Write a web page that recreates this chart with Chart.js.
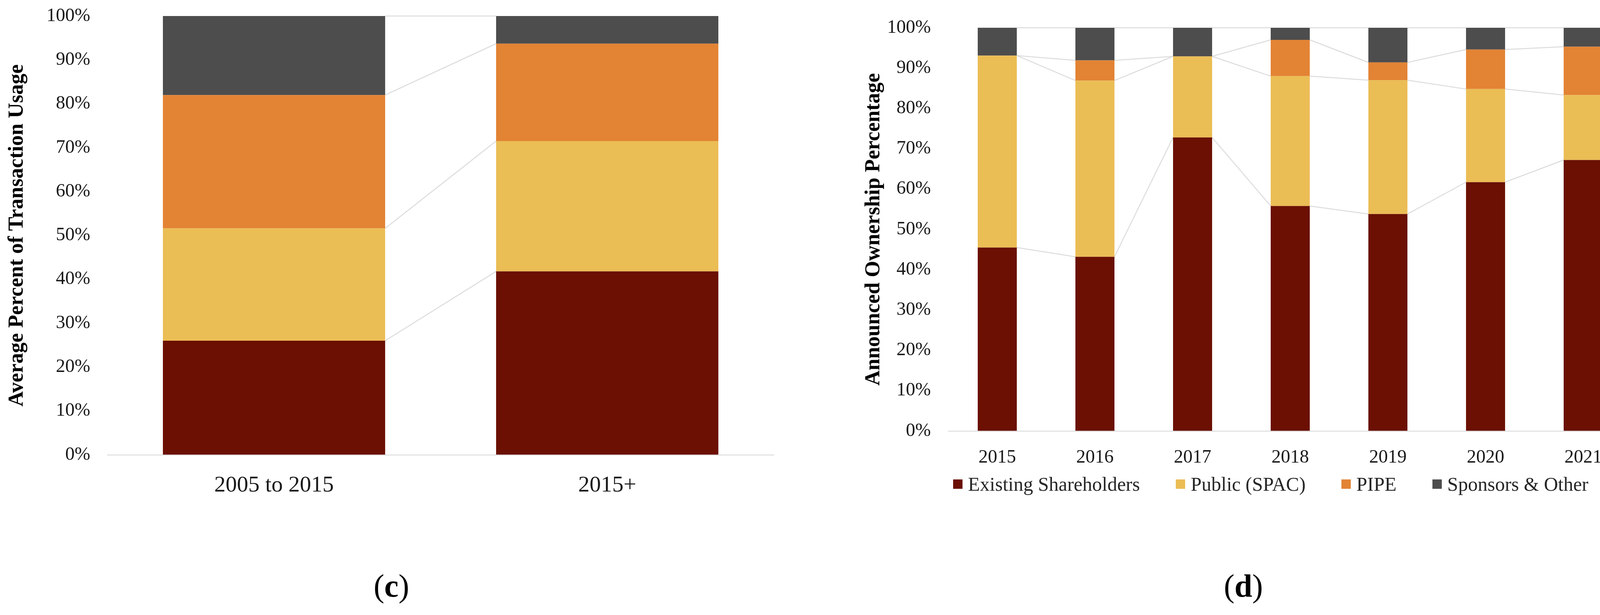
<!DOCTYPE html>
<html>
<head>
<meta charset="utf-8">
<script src="https://cdn.jsdelivr.net/npm/chart.js@4.4.1/dist/chart.umd.min.js"></script>
<style>
  html, body { margin: 0; padding: 0; background: #fff; overflow: hidden; }
  body { width: 4201px; height: 1574px; position: relative; font-family: 'Liberation Serif', 'Times New Roman', serif; }
  #left { position: absolute; left: 0; top: 0; }
  #right { position: absolute; left: 2150px; top: 0; }
  #legend { position: absolute; left: 2440px; top: 1208px; display: flex; align-items: center; gap: 92px;
            font-size: 50px; line-height: 62px; color: #262626; white-space: nowrap; }
  #legend .item { display: flex; align-items: center; }
  #legend i { display: inline-block; width: 24px; height: 24px; margin-right: 14px; }
  .caption { position: absolute; top: 1455px; font-size: 82px; line-height: 90px; color: #000; transform: translateX(-50%); }
</style>
</head>
<body>
<canvas id="left" width="2150" height="1300"></canvas>
<canvas id="right" width="2051" height="1300"></canvas>
<div id="legend"></div>
<div class="caption" style="left:1002px">(<b>c</b>)</div>
<div class="caption" style="left:3183px">(<b>d</b>)</div>
<script>
// series names and colours
const seriesNames = ["Existing Shareholders", "Public (SPAC)", "PIPE", "Sponsors & Other"];
const seriesColors = ["#6B1002", "#EBBD55", "#E38334", "#4D4D4D"];

// (c) average percent of transaction usage
const periods = ["2005 to 2015", "2015+"];
const usageExisting = [26.0, 41.8];
const usagePublic = [25.6, 29.7];
const usagePipe = [30.4, 22.2];
const usageSponsors = [18.0, 6.3];

// (d) announced ownership percentage
const years = ["2015", "2016", "2017", "2018", "2019", "2020", "2021"];
const ownExisting = [45.5, 43.2, 72.8, 55.8, 53.8, 61.7, 67.2];
const ownPublic = [47.6, 43.7, 20.1, 32.2, 33.2, 23.1, 16.1];
const ownPipe = [0, 5.0, 0, 9.0, 4.4, 9.8, 12.0];
const ownSponsors = [6.9, 8.1, 7.1, 3.0, 8.6, 5.4, 4.7];

const yTicks = [0, 10, 20, 30, 40, 50, 60, 70, 80, 90, 100];

const FONT = "'Liberation Serif', 'Times New Roman', serif";

// excel style series lines between the stacked segments
const seriesLines = {
  id: "seriesLines",
  beforeDatasetsDraw(chart) {
    const ctx = chart.ctx;
    ctx.save();
    ctx.strokeStyle = "#dcdcdc";
    ctx.lineWidth = 2.5;
    chart.data.datasets.forEach((ds, i) => {
      const bars = chart.getDatasetMeta(i).data;
      for (let j = 0; j < bars.length - 1; j++) {
        const a = bars[j], b = bars[j + 1];
        ctx.beginPath();
        ctx.moveTo(a.x + a.width / 2, a.y);
        ctx.lineTo(b.x - b.width / 2, b.y);
        ctx.stroke();
      }
    });
    ctx.restore();
  }
};

function makeDatasets(cols, barPct) {
  return cols.map((values, i) => ({
    label: seriesNames[i],
    data: values,
    backgroundColor: seriesColors[i],
    borderWidth: 0,
    barPercentage: barPct,
    categoryPercentage: 1
  }));
}

function makeOptions(o) {
  return {
    responsive: false,
    devicePixelRatio: 1,
    animation: false,
    layout: { padding: { top: o.top, right: o.right, bottom: 0, left: 0 } },
    plugins: { legend: { display: false }, tooltip: { enabled: false } },
    scales: {
      x: {
        stacked: true,
        grid: { display: false },
        border: { display: true, color: "#e3e3e3", width: 3 },
        ticks: { color: "#1a1a1a", font: { family: FONT, size: o.xFont }, padding: o.xPad, maxRotation: 0 },
        afterFit: s => { s.height = o.xHeight; }
      },
      y: {
        stacked: true,
        min: 0,
        max: 100,
        // invisible tick marks give the gap between labels and bars
        grid: { display: true, drawOnChartArea: false, drawTicks: true, tickLength: o.yGap, color: "rgba(0,0,0,0)" },
        border: { display: false },
        afterBuildTicks: s => { s.ticks = yTicks.map(v => ({ value: v })); },
        ticks: {
          color: "#1a1a1a",
          font: { family: FONT, size: 48 },
          padding: 0,
          callback: v => v + "%"
        },
        title: {
          display: true,
          text: o.title,
          color: "#000",
          font: { family: FONT, size: 54, weight: "bold" },
          padding: { top: o.titlePad, bottom: 0 }
        },
        afterFit: s => { s.width = o.yWidth; }
      }
    }
  };
}

new Chart(document.getElementById("left"), {
  type: "bar",
  data: {
    labels: periods,
    datasets: makeDatasets([usageExisting, usagePublic, usagePipe, usageSponsors], 0.667)
  },
  options: makeOptions({
    top: 41, right: 169, xFont: 58, xPad: 36, xHeight: 136,
    yGap: 44, yWidth: 275, titlePad: 12,
    title: "Average Percent of Transaction Usage"
  }),
  plugins: [seriesLines]
});

new Chart(document.getElementById("right"), {
  type: "bar",
  data: {
    labels: years,
    datasets: makeDatasets([ownExisting, ownPublic, ownPipe, ownSponsors], 0.4)
  },
  options: makeOptions({
    top: 71, right: 23, xFont: 48, xPad: 32, xHeight: 197,
    yGap: 45, yWidth: 278, titlePad: 55,
    title: "Announced Ownership Percentage"
  }),
  plugins: [seriesLines]
});

// legend for (d)
const legend = document.getElementById("legend");
seriesNames.forEach((name, i) => {
  const item = document.createElement("span");
  item.className = "item";
  const box = document.createElement("i");
  box.style.background = seriesColors[i];
  item.appendChild(box);
  item.appendChild(document.createTextNode(name));
  legend.appendChild(item);
});
</script>
</body>
</html>
